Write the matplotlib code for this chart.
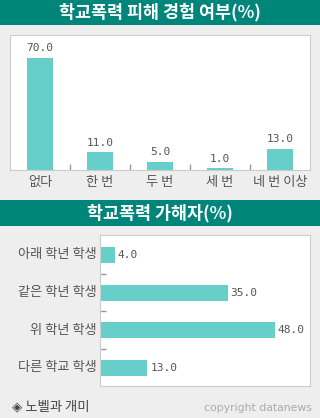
import matplotlib
matplotlib.use('Agg')
import matplotlib.pyplot as plt
from matplotlib.patches import Rectangle

plt.rcParams['font.family'] = ['Noto Sans CJK KR', 'DejaVu Sans']

# data
title1 = '학교폭력 피해 경험 여부(%)'
cats1 = ['없다', '한 번', '두 번', '세 번', '네 번 이상']
vals1 = [70.0, 11.0, 5.0, 1.0, 13.0]

title2 = '학교폭력 가해자(%)'
cats2 = ['아래 학년 학생', '같은 학년 학생', '위 학년 학생', '다른 학교 학생']
vals2 = [4.0, 35.0, 48.0, 13.0]

source = '◈ 노벨과 개미'
credit = 'copyright datanews'

W, H = 320, 418
teal = '#00857b'
bar_c = '#66cfc9'
grey_txt = '#555555'
num_font = 'DejaVu Sans Mono'

fig = plt.figure(figsize=(W / 100, H / 100), dpi=100)
fig.patch.set_facecolor('#eeeeee')

def px(x, y, w, h):
    return [x / W, 1 - (y + h) / H, w / W, h / H]

def banner(y, h, text):
    fig.patches.append(Rectangle((0, 1 - (y + h) / H), 1, h / H, transform=fig.transFigure,
                                 facecolor=teal, edgecolor='none', zorder=0))
    fig.text(0.5, 1 - (y + h / 2) / H, text, color='white', fontsize=12.5, fontweight='bold',
             ha='center', va='center')

# top chart
banner(0, 25, title1)
ax1 = fig.add_axes(px(10, 35, 300, 135))
x1 = range(len(cats1))
ax1.bar(x1, vals1, width=0.42, color=bar_c, zorder=2)
ax1.set_xlim(-0.5, len(cats1) - 0.5)
ax1.set_ylim(0, 84.4)
ax1.set_yticks([])
ax1.set_xticks([i + 0.5 for i in range(len(cats1) - 1)])
ax1.set_xticklabels([])
ax1.tick_params(axis='x', direction='in', length=4, color='#999999', width=1)
for i, v in enumerate(vals1):
    ax1.text(i, v + 3, f'{v:.1f}', ha='center', va='bottom', fontsize=8,
             family=num_font, color=grey_txt)
    ax1.text(i, -3.5, cats1[i], ha='center', va='top', fontsize=9.5, color=grey_txt,
             clip_on=False)
for s in ax1.spines.values():
    s.set_color('#cccccc')

# bottom chart
banner(200, 26, title2)
ax2 = fig.add_axes(px(100, 235, 210, 151))
y2 = range(len(cats2))
ax2.barh(y2, vals2, height=0.42, color=bar_c, zorder=2)
ax2.set_ylim(len(cats2) - 0.52, -0.53)
ax2.set_xlim(0, 57.6)
ax2.set_xticks([])
ax2.set_yticks([i + 0.5 for i in range(len(cats2) - 1)])
ax2.set_yticklabels([])
ax2.tick_params(axis='y', direction='in', length=4, color='#999999', width=1)
for i, v in enumerate(vals2):
    ax2.text(v + 0.8, i, f'{v:.1f}', ha='left', va='center', fontsize=8,
             family=num_font, color=grey_txt)
    ax2.text(-1.0, i, cats2[i], ha='right', va='center', fontsize=9.5, color=grey_txt,
             clip_on=False)
for s in ax2.spines.values():
    s.set_color('#cccccc')

fig.text(12 / W, 1 - 406 / H, source, fontsize=9.6, color='#444444', ha='left', va='center',
         family=['Noto Sans CJK KR', 'DejaVu Sans'])
fig.text(312 / W, 1 - 408 / H, credit, fontsize=7.8, color='#aaaaaa', ha='right', va='center',
         family='DejaVu Sans')

fig.savefig('out.png', dpi=100, facecolor=fig.get_facecolor())
